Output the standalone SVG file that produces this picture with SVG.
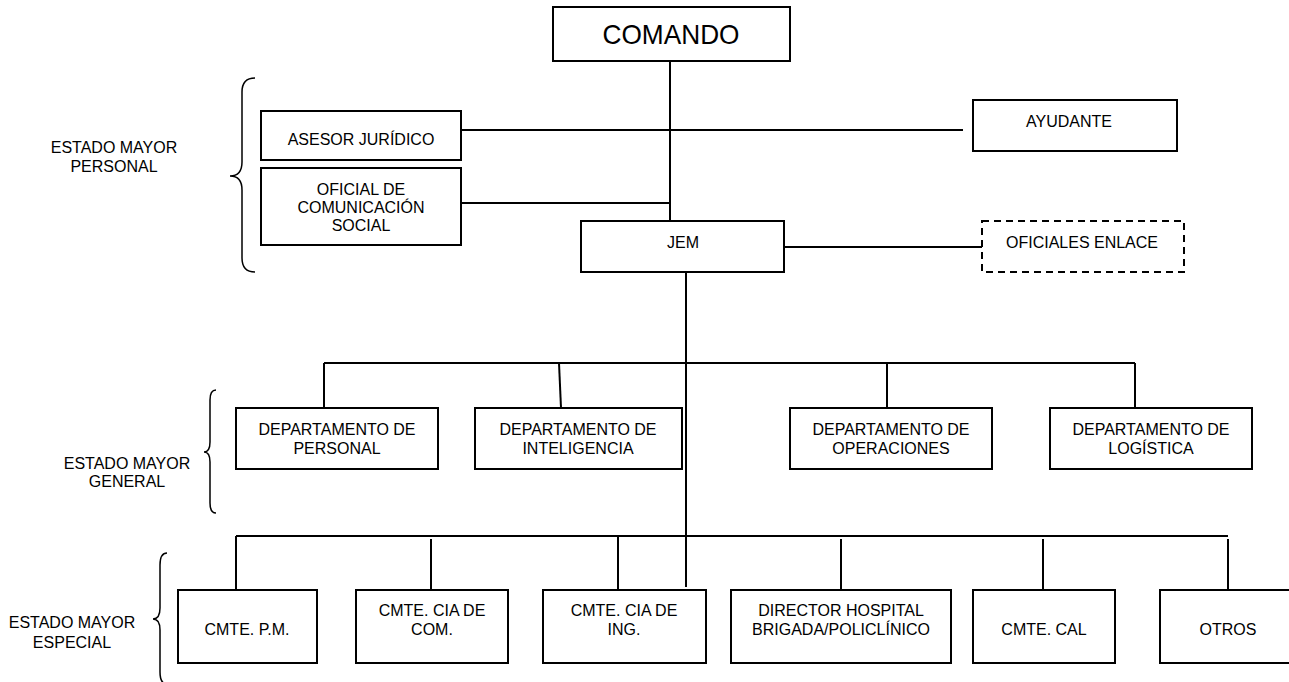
<svg xmlns="http://www.w3.org/2000/svg" width="1289" height="682" viewBox="0 0 1289 682">
  <style>
    .box { fill: #fff; stroke: #000; stroke-width: 2; }
    .dash { fill: #fff; stroke: #000; stroke-width: 2; stroke-dasharray: 7 5; }
    .ln { stroke: #000; stroke-width: 2; fill: none; }
    .brace { stroke: #000; stroke-width: 1.5; fill: none; }
    text { font-family: "Liberation Sans", Arial, sans-serif; font-size: 16px; fill: #000; text-anchor: middle; }
    .big { font-size: 28px; }
  </style>
  <rect width="1289" height="682" fill="#fff"/>

  <!-- connectors -->
  <g id="connectors">
    <line class="ln" x1="670" y1="61" x2="670" y2="221"/>
    <line class="ln" x1="461" y1="130" x2="963" y2="130"/>
    <line class="ln" x1="461" y1="203" x2="670" y2="203"/>
    <line class="ln" x1="784" y1="247" x2="982" y2="247"/>
    <line class="ln" x1="686" y1="272" x2="686" y2="587"/>
    <!-- general staff bar -->
    <line class="ln" x1="324" y1="363" x2="1135" y2="363"/>
    <line class="ln" x1="324" y1="363" x2="324" y2="408"/>
    <line class="ln" x1="559" y1="363" x2="561" y2="408"/>
    <line class="ln" x1="887" y1="363" x2="887" y2="408"/>
    <line class="ln" x1="1135" y1="363" x2="1135" y2="408"/>
    <!-- special staff bar -->
    <line class="ln" x1="236" y1="536" x2="1228" y2="536"/>
    <line class="ln" x1="236" y1="536" x2="236" y2="590"/>
    <line class="ln" x1="431" y1="539" x2="431" y2="599"/>
    <line class="ln" x1="618" y1="536" x2="618" y2="590"/>
    <line class="ln" x1="841" y1="539" x2="841" y2="593"/>
    <line class="ln" x1="1043" y1="539" x2="1043" y2="593"/>
    <line class="ln" x1="1228" y1="539" x2="1228" y2="593"/>
  </g>

  <!-- braces and group labels -->
  <g id="grupo-personal">
    <path class="brace" d="M255,78 Q242,78 242,92 L242,162 Q242,176 230,176 Q242,176 242,190 L242,258 Q242,272 255,272"/>
    <text x="114" y="153">ESTADO MAYOR</text>
    <text x="114" y="172">PERSONAL</text>
  </g>
  <g id="grupo-general">
    <path class="brace" d="M216,390 Q210,390 210,400 L210,442 Q210,452 204,452 Q210,452 210,462 L210,503 Q210,513 216,513"/>
    <text x="127" y="469">ESTADO MAYOR</text>
    <text x="127" y="487">GENERAL</text>
  </g>
  <g id="grupo-especial">
    <path class="brace" d="M167,553 Q160,553 160,565 L160,608 Q160,619 153,619 Q160,619 160,630 L160,672 Q160,684 167,684"/>
    <text x="72" y="628">ESTADO MAYOR</text>
    <text x="72" y="648">ESPECIAL</text>
  </g>

  <g id="comando">
    <rect class="box" x="553" y="7" width="237" height="54"/>
    <text class="big" x="671" y="44" textLength="137" lengthAdjust="spacingAndGlyphs">COMANDO</text>
  </g>
  <g id="asesor-juridico">
    <rect class="box" x="261" y="111" width="200" height="49"/>
    <text x="361" y="145">ASESOR JURÍDICO</text>
  </g>
  <g id="ayudante">
    <rect class="box" x="973" y="100" width="204" height="51"/>
    <text x="1069" y="127">AYUDANTE</text>
  </g>
  <g id="oficial-comunicacion">
    <rect class="box" x="261" y="168" width="200" height="77"/>
    <text x="361" y="195">OFICIAL DE</text>
    <text x="361" y="213">COMUNICACIÓN</text>
    <text x="361" y="231">SOCIAL</text>
  </g>
  <g id="jem">
    <rect class="box" x="581" y="221" width="203" height="51"/>
    <text x="683" y="248">JEM</text>
  </g>
  <g id="oficiales-enlace">
    <rect class="dash" x="982" y="221" width="202" height="51"/>
    <text x="1082" y="248">OFICIALES ENLACE</text>
  </g>

  <g id="dep-personal">
    <rect class="box" x="236" y="408" width="202" height="61"/>
    <text x="337" y="435">DEPARTAMENTO DE</text>
    <text x="337" y="454">PERSONAL</text>
  </g>
  <g id="dep-inteligencia">
    <rect class="box" x="475" y="408" width="207" height="61"/>
    <text x="578" y="435">DEPARTAMENTO DE</text>
    <text x="578" y="454">INTELIGENCIA</text>
  </g>
  <g id="dep-operaciones">
    <rect class="box" x="790" y="408" width="202" height="61"/>
    <text x="891" y="435">DEPARTAMENTO DE</text>
    <text x="891" y="454">OPERACIONES</text>
  </g>
  <g id="dep-logistica">
    <rect class="box" x="1050" y="408" width="202" height="61"/>
    <text x="1151" y="435">DEPARTAMENTO DE</text>
    <text x="1151" y="454">LOGÍSTICA</text>
  </g>

  <g id="cmte-pm">
    <rect class="box" x="178" y="590" width="139" height="73"/>
    <text x="247" y="635">CMTE. P.M.</text>
  </g>
  <g id="cmte-cia-com">
    <rect class="box" x="356" y="590" width="152" height="73"/>
    <text x="432" y="616">CMTE. CIA DE</text>
    <text x="432" y="635">COM.</text>
  </g>
  <g id="cmte-cia-ing">
    <rect class="box" x="543" y="590" width="163" height="73"/>
    <text x="624" y="616">CMTE. CIA DE</text>
    <text x="624" y="635">ING.</text>
  </g>
  <g id="director-hospital">
    <rect class="box" x="731" y="590" width="220" height="73"/>
    <text x="841" y="616">DIRECTOR HOSPITAL</text>
    <text x="841" y="635">BRIGADA/POLICLÍNICO</text>
  </g>
  <g id="cmte-cal">
    <rect class="box" x="973" y="590" width="142" height="73"/>
    <text x="1044" y="635">CMTE. CAL</text>
  </g>
  <g id="otros">
    <rect class="box" x="1160" y="590" width="140" height="73"/>
    <text x="1228" y="635">OTROS</text>
  </g>
</svg>
